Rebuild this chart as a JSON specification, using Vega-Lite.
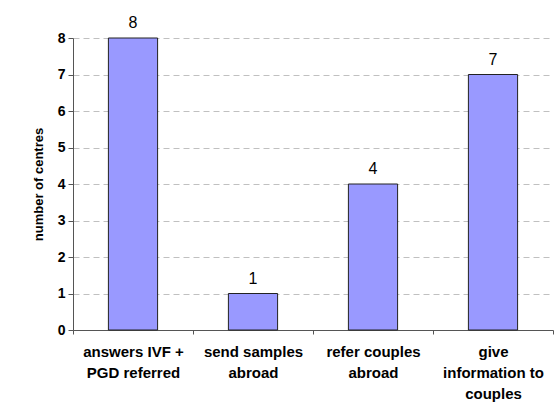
{
  "$schema": "https://vega.github.io/schema/vega-lite/v6.json",
  "autosize": "none",
  "padding": {"left": 73, "top": 38, "right": 7, "bottom": 84},
  "width": 480,
  "height": 292,
  "background": "white",
  "config": {
    "view": {"stroke": null},
    "font": "Liberation Sans"
  },
  "data": {
    "values": [
      {"category": "answers IVF +|PGD referred", "centres": 8},
      {"category": "send samples|abroad", "centres": 1},
      {"category": "refer couples|abroad", "centres": 4},
      {"category": "give|information to|couples", "centres": 7}
    ]
  },
  "encoding": {
    "x": {
      "field": "category",
      "type": "nominal",
      "sort": null,
      "scale": {"paddingInner": 0, "paddingOuter": 0},
      "axis": {
        "title": null,
        "labelExpr": "split(datum.label, '|')",
        "labelAngle": 0,
        "labelFont": "Liberation Sans",
        "labelFontSize": 15,
        "labelFontWeight": "bold",
        "labelColor": "black",
        "labelLineHeight": 21,
        "labelPadding": 10,
        "labelLimit": 200,
        "tickBand": "extent",
        "tickSize": 4,
        "tickColor": "#555555",
        "domainColor": "#555555",
        "grid": false
      }
    },
    "y": {
      "field": "centres",
      "type": "quantitative",
      "scale": {"domain": [0, 8], "nice": false},
      "axis": {
        "title": "number of centres",
        "titleFont": "Liberation Sans",
        "titleFontSize": 13,
        "titleFontWeight": "bold",
        "titleColor": "black",
        "titlePadding": 12,
        "values": [0, 1, 2, 3, 4, 5, 6, 7, 8],
        "labelFont": "Liberation Sans",
        "labelFontSize": 14,
        "labelFontWeight": "bold",
        "labelColor": "black",
        "labelPadding": 3,
        "tickSize": 5,
        "tickColor": "#555555",
        "domainColor": "#555555",
        "grid": true,
        "gridColor": "#c0c0c0",
        "gridDash": [6, 4],
        "gridWidth": 1
      }
    }
  },
  "layer": [
    {
      "mark": {
        "type": "bar",
        "width": {"band": 0.41},
        "color": "#9999FF",
        "stroke": "#222222",
        "strokeWidth": 1
      }
    },
    {
      "mark": {
        "type": "text",
        "baseline": "alphabetic",
        "dy": -10,
        "fontSize": 16,
        "font": "Liberation Sans",
        "color": "black"
      },
      "encoding": {"text": {"field": "centres", "type": "quantitative"}}
    }
  ]
}
